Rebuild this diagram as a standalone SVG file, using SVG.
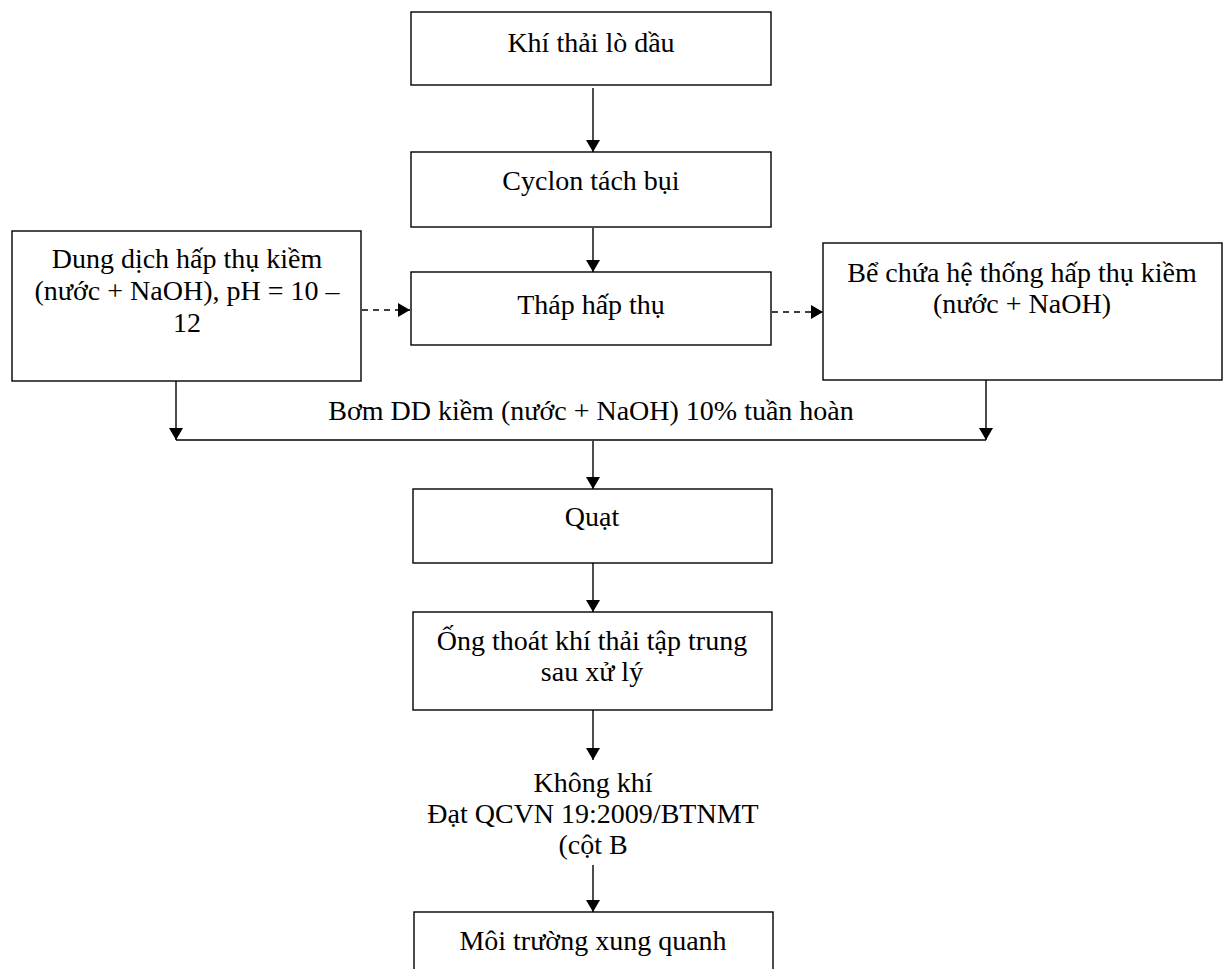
<svg xmlns="http://www.w3.org/2000/svg" width="1228" height="969" viewBox="0 0 1228 969">
<style>
.box{fill:#fff;stroke:#000;stroke-width:1.4}
.t{font-family:"Liberation Serif","Times New Roman",serif;font-size:28px;fill:#000;text-anchor:middle}
.ln{stroke:#000;stroke-width:1.4;fill:none}
.dash{stroke-dasharray:6 5}
</style>
<defs>
<marker id="ah" viewBox="0 0 12 14" refX="12" refY="7" markerWidth="12" markerHeight="14" markerUnits="userSpaceOnUse" orient="auto">
<path d="M0,0 L12,7 L0,14 z" fill="#000"/>
</marker>
</defs>
<rect width="1228" height="969" fill="#fff"/>
<g id="n1"><rect class="box" x="411" y="12" width="360" height="73"/><text class="t" x="591" y="52">Khí thải lò dầu</text></g>
<g id="n2"><rect class="box" x="411" y="152" width="360" height="75"/><text class="t" x="591" y="190">Cyclon tách bụi</text></g>
<g id="n3"><rect class="box" x="12" y="231" width="349" height="150"/><text class="t" x="187" y="268">Dung dịch hấp thụ kiềm</text><text class="t" x="187" y="300">(nước + NaOH), pH = 10 –</text><text class="t" x="187" y="332">12</text></g>
<g id="n4"><rect class="box" x="411" y="272" width="360" height="73"/><text class="t" x="591" y="314">Tháp hấp thụ</text></g>
<g id="n5"><rect class="box" x="823" y="243" width="399" height="137"/><text class="t" x="1022" y="282">Bể chứa hệ thống hấp thụ kiềm</text><text class="t" x="1022" y="313">(nước + NaOH)</text></g>
<g id="n6"><rect class="box" x="413" y="489" width="359" height="74"/><text class="t" x="592" y="526">Quạt</text></g>
<g id="n7"><rect class="box" x="413" y="612" width="359" height="98"/><text class="t" x="592" y="650">Ống thoát khí thải tập trung</text><text class="t" x="592" y="681">sau xử lý</text></g>
<g id="n8"><text class="t" x="593" y="792">Không khí</text><text class="t" x="593" y="823">Đạt QCVN 19:2009/BTNMT</text><text class="t" x="593" y="854">(cột B</text></g>
<g id="n9"><rect class="box" x="414" y="912" width="359" height="80"/><text class="t" x="593" y="950">Môi trường xung quanh</text></g>
<g id="edges">
<line class="ln" x1="593" y1="88" x2="593" y2="152" marker-end="url(#ah)"/>
<line class="ln" x1="593" y1="228" x2="593" y2="272" marker-end="url(#ah)"/>
<line class="ln dash" x1="362" y1="310" x2="410" y2="310" marker-end="url(#ah)"/>
<line class="ln dash" x1="772" y1="312" x2="823" y2="312" marker-end="url(#ah)"/>
<line class="ln" x1="176" y1="381" x2="176" y2="440" marker-end="url(#ah)"/>
<line class="ln" x1="986" y1="380" x2="986" y2="440" marker-end="url(#ah)"/>
<line class="ln" x1="176" y1="440" x2="986" y2="440"/>
<text class="t" x="591" y="420">Bơm DD kiềm (nước + NaOH) 10% tuần hoàn</text>
<line class="ln" x1="593" y1="441" x2="593" y2="489" marker-end="url(#ah)"/>
<line class="ln" x1="593" y1="563" x2="593" y2="612" marker-end="url(#ah)"/>
<line class="ln" x1="593" y1="710" x2="593" y2="760" marker-end="url(#ah)"/>
<line class="ln" x1="593" y1="865" x2="593" y2="912" marker-end="url(#ah)"/>
</g>
</svg>
